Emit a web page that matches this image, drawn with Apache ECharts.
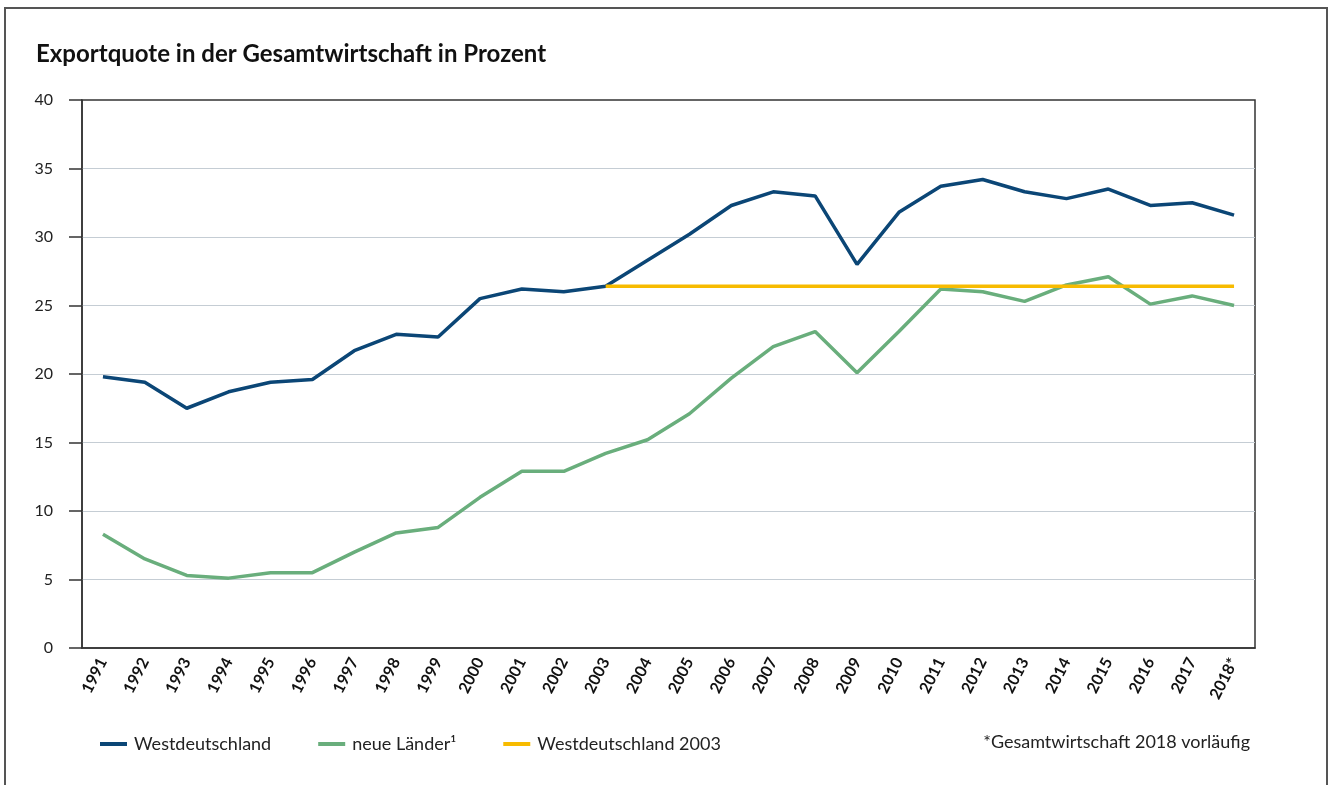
<!DOCTYPE html>
<html>
<head>
<meta charset="utf-8">
<script src="https://cdn.jsdelivr.net/npm/echarts@6/dist/echarts.min.js"></script>
<style>
html,body{margin:0;padding:0;background:#fff;}
#chart{width:1331px;height:785px;}
</style>
</head>
<body>
<div id="chart"></div>
<script>
const years = ['1991','1992','1993','1994','1995','1996','1997','1998','1999','2000','2001','2002','2003','2004','2005','2006','2007','2008','2009','2010','2011','2012','2013','2014','2015','2016','2017','2018*'];
const westdeutschland = [19.8,19.4,17.5,18.7,19.4,19.6,21.7,22.9,22.7,25.5,26.2,26.0,26.4,28.3,30.2,32.3,33.3,33.0,28.0,31.8,33.7,34.2,33.3,32.8,33.5,32.3,32.5,31.6];
const neueLaender = [8.3,6.5,5.3,5.1,5.5,5.5,7.0,8.4,8.8,11.0,12.9,12.9,14.2,15.2,17.1,19.7,22.0,23.1,20.1,23.1,26.2,26.0,25.3,26.5,27.1,25.1,25.7,25.0];
const westdeutschland2003 = [null,null,null,null,null,null,null,null,null,null,null,null,26.4,26.4,26.4,26.4,26.4,26.4,26.4,26.4,26.4,26.4,26.4,26.4,26.4,26.4,26.4,26.4];
const yTicks = [0,5,10,15,20,25,30,35,40];
const seriesNames = ['Westdeutschland','neue Länder¹','Westdeutschland 2003'];
const titleText = 'Exportquote in der Gesamtwirtschaft in Prozent';
const footnote = '*Gesamtwirtschaft 2018 vorläufig';

const FONT = 'Lato, "Open Sans", sans-serif';
const chart = echarts.init(document.getElementById('chart'), null, {renderer:'canvas'});
chart.setOption({
  animation:false,
  backgroundColor:'#fff',
  title:{
    text:titleText, left:31, top:37,
    textStyle:{fontFamily:FONT, fontWeight:'bold', fontSize:24, color:'#111'}
  },
  graphic:[
    {type:'rect', shape:{x:5,y:8,width:1322,height:790}, style:{fill:'none', stroke:'#555', lineWidth:2}, silent:true},
    {type:'text', right:81, top:733, style:{text:footnote, font:'18px ' + FONT, fill:'#222'}}
  ],
  legend:{
    left:95, top:730, itemWidth:27, itemHeight:4, itemGap:47,
    icon:'rect',
    textStyle:{fontFamily:FONT, fontSize:18, color:'#222', padding:[0,0,0,2]},
    data:seriesNames
  },
  grid:{left:82, right:76, top:100, bottom:137, show:true, borderColor:'#333', borderWidth:1.5, backgroundColor:'transparent', containLabel:false},
  xAxis:{
    type:'category', data:years, boundaryGap:true,
    axisLine:{lineStyle:{color:'#333', width:1.5}},
    axisTick:{show:false},
    axisLabel:{rotate:63, margin:11, fontFamily:FONT, fontWeight:'bold', fontSize:16, color:'#111', interval:0}
  },
  yAxis:{
    type:'value', min:0, max:40, interval:5,
    axisLine:{show:true, lineStyle:{color:'#333', width:1.5}},
    axisTick:{show:true, length:13, lineStyle:{color:'#333', width:1.5}},
    axisLabel:{margin:29, fontFamily:FONT, fontSize:16, color:'#222'},
    splitLine:{show:true, showMaxLine:false, showMinLine:false, lineStyle:{color:'#c5cdd4', width:1.2}}
  },
  series:[
    {name:seriesNames[0], type:'line', data:westdeutschland, symbol:'none', lineStyle:{color:'#0b4676', width:3.5}, itemStyle:{color:'#0b4676'}, z:3},
    {name:seriesNames[1], type:'line', data:neueLaender, symbol:'none', lineStyle:{color:'#69ae7c', width:3.5}, itemStyle:{color:'#69ae7c'}, z:2},
    {name:seriesNames[2], type:'line', data:westdeutschland2003, symbol:'none', lineStyle:{color:'#f7bb00', width:3.5}, itemStyle:{color:'#f7bb00'}, z:4}
  ]
});
</script>
</body>
</html>
